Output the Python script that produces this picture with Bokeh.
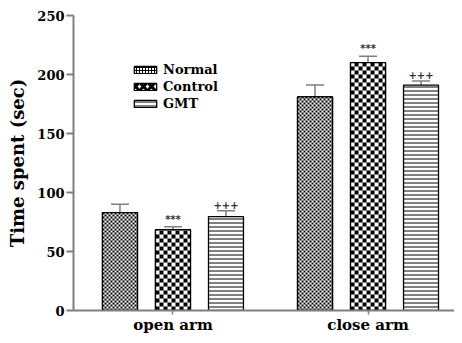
import numpy as np
from bokeh.plotting import figure
from bokeh.models import ColumnDataSource, Range1d, FixedTicker, Whisker, TeeHead
from bokeh.core.properties import value
from bokeh.embed import file_html
from bokeh.resources import INLINE

# ---- data ----
groups = ["open arm", "close arm"]
series = ["Normal", "Control", "GMT"]
normal = [83, 181]
normal_err = [7, 10]
control = [68.5, 210]
control_err = [2.5, 5.5]
gmt = [79.5, 191]
gmt_err = [5, 3.5]
normal_marks = ["", ""]
control_marks = ["***", "***"]
gmt_marks = ["+++", "+++"]
y_ticks = [0, 50, 100, 150, 200, 250]

values = [normal, control, gmt]
errors = [normal_err, control_err, gmt_err]
marks = [normal_marks, control_marks, gmt_marks]

n = len(series)
gap = 0.68
width = 0.66

def xpos(si):
    return [gi * (n + gap) + si for gi in range(len(groups))]

centers = [gi * (n + gap) + (n - 1) / 2 for gi in range(len(groups))]

# ---- layout / pattern styling ----
FRAME_W, FRAME_H = 381, 295
PX_X = 53.0                      # pixels per x unit
PX_Y = FRAME_H / 250.0           # pixels per y unit
X0 = -0.877


def checker(xs, tops, cell_px):
    cw, ch = cell_px / PX_X, cell_px / PX_Y
    L, R, B, T = [], [], [], []
    for xc, t in zip(xs, tops):
        x0, x1 = xc - width / 2, xc + width / 2
        nx = int(np.ceil((x1 - x0) / cw - 1e-9))
        ny = int(np.ceil(t / ch - 1e-9))
        for i in range(nx):
            for j in range(ny):
                if (i + j) % 2 == 0:
                    L.append(x0 + i * cw)
                    R.append(min(x0 + (i + 1) * cw, x1))
                    B.append(j * ch)
                    T.append(min((j + 1) * ch, t))
    return ColumnDataSource(dict(left=L, right=R, bottom=B, top=T))


p = figure(frame_width=FRAME_W, frame_height=FRAME_H, output_backend="svg",
           toolbar_location=None,
           x_range=Range1d(X0, X0 + FRAME_W / PX_X), y_range=Range1d(0, 250),
           min_border_left=73, min_border_top=15, min_border_bottom=24,
           min_border_right=0)
p.outline_line_color = None
p.grid.visible = False
p.background_fill_color = "white"

grey = "#7f7f7f"
legend_hatch = [
    dict(hatch_pattern="cross", hatch_scale=3, hatch_weight=1),
    dict(hatch_pattern="diagonal_cross", hatch_scale=8, hatch_weight=3),
    dict(hatch_pattern="horizontal_line", hatch_scale=4, hatch_weight=1),
]
cell_sizes = [2, 4, None]

for si, name in enumerate(series):
    top = values[si]
    hi = [v + e for v, e in zip(values[si], errors[si])]
    xs = xpos(si)
    src = ColumnDataSource(dict(x=xs, top=top, hi=hi, mark=marks[si]))
    p.vbar(x="x", top="top", width=width, source=src, fill_color="white",
           line_color="black", line_width=1.3, hatch_color="black",
           legend_label=name, **legend_hatch[si])
    if cell_sizes[si] is not None:
        p.vbar(x="x", top="top", width=width, source=src, fill_color="white",
               line_color=None)
        p.quad(left="left", right="right", bottom="bottom", top="top",
               source=checker(xs, top, cell_sizes[si]), fill_color="black",
               line_color=None)
        p.vbar(x="x", top="top", width=width, source=src, fill_color=None,
               line_color="black", line_width=1.3)
    w = Whisker(source=src, base="x", lower="top", upper="hi", dimension="height",
                lower_head=None,
                upper_head=TeeHead(size=18, line_color=grey, line_width=1.5),
                line_color=grey, line_width=1.5)
    p.add_layout(w)
    p.text(x="x", y="hi", text="mark", source=src, text_align="center",
           text_baseline="bottom", y_offset=-2, text_color="#333333",
           text_font=value("DejaVu Sans"), text_font_size="10px",
           text_font_style="bold")

font = "DejaVu Serif"
# y axis
ya = p.yaxis[0]
ya.ticker = FixedTicker(ticks=y_ticks)
ya.minor_tick_line_color = None
ya.axis_line_color = grey
ya.axis_line_width = 2
ya.major_tick_line_color = grey
ya.major_tick_line_width = 2
ya.major_tick_out = 7
ya.major_tick_in = 0
ya.major_label_standoff = 2
ya.major_label_text_font = font
ya.major_label_text_font_style = "bold"
ya.major_label_text_font_size = "13px"
ya.major_label_text_color = "black"
ya.axis_label = "Time spent (sec)"
ya.axis_label_text_font = font
ya.axis_label_text_font_style = "bold"
ya.axis_label_text_font_size = "18px"
ya.axis_label_text_color = "black"
ya.axis_label_standoff = 6

# x axis
xa = p.xaxis[0]
xa.ticker = FixedTicker(ticks=centers)
xa.major_label_overrides = {c: g for c, g in zip(centers, groups)}
xa.minor_tick_line_color = None
xa.axis_line_color = grey
xa.axis_line_width = 2
xa.major_tick_line_color = grey
xa.major_tick_line_width = 1.5
xa.major_tick_out = 4
xa.major_tick_in = 0
xa.major_label_standoff = 1
xa.major_label_text_font = font
xa.major_label_text_font_style = "bold"
xa.major_label_text_font_size = "15px"
xa.major_label_text_color = "black"

lg = p.legend[0]
lg.location = (58, 198)
lg.border_line_color = None
lg.background_fill_alpha = 0
lg.padding = 0
lg.margin = 0
lg.spacing = 0
lg.glyph_width = 28
lg.glyph_height = 9
lg.label_height = 17
lg.label_standoff = 4
lg.label_text_font = font
lg.label_text_font_style = "bold"
lg.label_text_font_size = "13px"
lg.label_text_color = "black"

open("out.html", "w").write(file_html(p, INLINE))
